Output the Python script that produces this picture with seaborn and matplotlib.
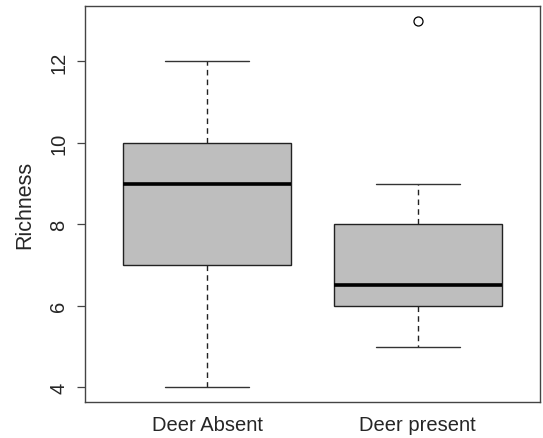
import matplotlib
matplotlib.use("Agg")
import matplotlib.pyplot as plt
import seaborn as sns
import pandas as pd

groups = ["Deer Absent", "Deer present"]
absent_richness = [4, 6, 7, 8, 9, 9, 10, 11, 12]
present_richness = [5, 6, 6, 6, 6, 6, 7, 8, 8, 8, 9, 13]
yticks = [4, 6, 8, 10, 12]

df = pd.DataFrame({
    "group": [groups[0]] * len(absent_richness) + [groups[1]] * len(present_richness),
    "Richness": absent_richness + present_richness,
})

sns.set_theme(style="white")
plt.rcParams["font.family"] = ["Liberation Sans", "DejaVu Sans"]

fig = plt.figure(figsize=(5.43, 4.39), dpi=100)
ax = fig.add_axes([0.1565, 0.082, 0.838, 0.902])

sns.boxplot(
    data=df, x="group", y="Richness", order=groups, ax=ax,
    color="#bebebe", saturation=1, width=0.8, whis=1.5,
    linecolor="#222222", linewidth=1.0,
    boxprops=dict(facecolor="#bebebe", edgecolor="#222222", linewidth=1.0),
    medianprops=dict(color="black", linewidth=2.6),
    whiskerprops=dict(linestyle=(0, (4, 3)), color="#222222", linewidth=1.0),
    capprops=dict(color="#333333", linewidth=1.0),
    flierprops=dict(marker="o", markerfacecolor="none", markeredgecolor="black",
                    markersize=6.5, markeredgewidth=0.9),
    capwidths=0.4,
)

ax.set_xlim(0.42 - 1, 2.58 - 1)
ax.set_ylim(3.64, 13.36)
ax.set_yticks(yticks)
ax.set_yticklabels([str(t) for t in yticks], rotation=90, va="center", fontsize=14.5)
ax.set_xticklabels(groups, fontsize=14.5)
ax.tick_params(axis="y", left=True, length=6, width=0.9, color="#444444", pad=6)
ax.tick_params(axis="x", bottom=False, length=0, pad=9)
ax.set_xlabel("")
ax.set_ylabel("Richness", fontsize=15.5, labelpad=10)
for s in ax.spines.values():
    s.set_color("#444444")
    s.set_linewidth(1.0)
    s.set_visible(True)
ax.grid(False)

fig.savefig("out.png", dpi=100)
